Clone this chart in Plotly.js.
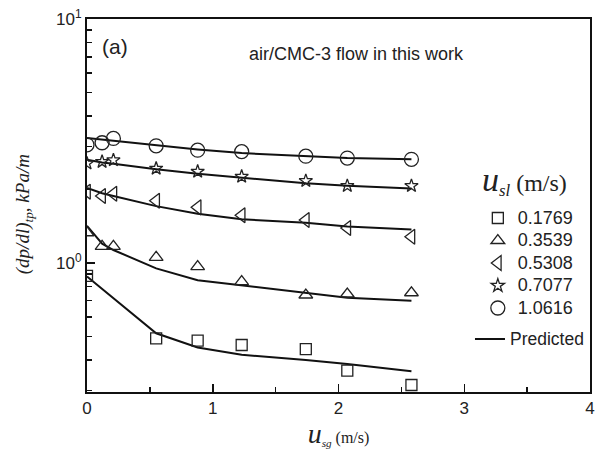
<!DOCTYPE html>
<html>
<head>
<meta charset="utf-8">
<script src="https://cdn.plot.ly/plotly-3.0.1.min.js"></script>
<style>html,body{margin:0;padding:0;background:#fff;}#chart{width:600px;height:453px;}</style>
</head>
<body>
<div id="chart"></div>
<script>
// Superficial gas velocity (m/s)
var usg = [0, 0.12, 0.21, 0.55, 0.88, 1.23, 1.74, 2.07, 2.58];
var usgSq = [0, 0.55, 0.88, 1.23, 1.74, 2.07, 2.58];
// Measured (dp/dl)tp, kPa/m
var exp01769 = [0.885, 0.491, 0.48, 0.461, 0.443, 0.362, 0.316];
var exp03539 = [1.33, 1.17, 1.17, 1.055, 0.966, 0.838, 0.739, 0.746, 0.755];
var exp05308 = [1.96, 1.88, 1.92, 1.80, 1.69, 1.57, 1.50, 1.39, 1.28];
var exp07077 = [2.56, 2.60, 2.64, 2.44, 2.37, 2.26, 2.17, 2.07, 2.07];
var exp10616 = [3.05, 3.11, 3.24, 3.02, 2.90, 2.86, 2.74, 2.69, 2.66];
// Predicted
var pre01769 = [0.88, 0.515, 0.45, 0.42, 0.40, 0.385, 0.36];
var pre03539 = [1.42, 1.20, 1.13, 0.95, 0.85, 0.81, 0.75, 0.72, 0.70];
var pre05308 = [2.03, 1.93, 1.88, 1.71, 1.59, 1.51, 1.46, 1.41, 1.37];
var pre07077 = [2.65, 2.58, 2.55, 2.42, 2.32, 2.23, 2.12, 2.07, 2.02];
var pre10616 = [3.25, 3.20, 3.17, 3.04, 2.92, 2.82, 2.73, 2.69, 2.66];
var seriesNames = ['0.1769', '0.3539', '0.5308', '0.7077', '1.0616'];
var yTickVals = [1, 10];
var yTickText = ['10<sup>0</sup>', '10<sup>1</sup>'];
var yMinor = [0.3, 0.4, 0.5, 0.6, 0.7, 0.8, 0.9, 2, 3, 4, 5, 6, 7, 8, 9];
var xTickVals = [0, 1, 2, 3, 4];
var xMinor = [0.5, 1.5, 2.5, 3.5];

var symbols = ['square-open', 'triangle-up-open', 'triangle-left-open', 'star-open', 'circle-open'];
var sizes = [11, 12, 13, 10, 14];
var expX = [usgSq, usg, usg, usg, usg];
var expY = [exp01769, exp03539, exp05308, exp07077, exp10616];
var preY = [pre01769, pre03539, pre05308, pre07077, pre10616];

function big(t, s) { return '<span style="font-size:' + s + 'px">' + t + '</span>'; }

var traces = [];
for (var i = 0; i < 5; i++) {
  traces.push({
    x: expX[i], y: preY[i], type: 'scatter', mode: 'lines',
    line: {color: '#111', width: 2},
    name: big('Predicted', 17.5), showlegend: i === 0, legend: 'legend2'
  });
}
for (var j = 0; j < 5; j++) {
  traces.push({
    x: expX[j], y: expY[j], type: 'scatter', mode: 'markers',
    marker: {symbol: symbols[j], size: sizes[j], color: '#222', line: {width: 1.3, color: '#222'}},
    name: big(seriesNames[j], 18), legend: 'legend'
  });
}

var layout = {
  width: 600, height: 453,
  margin: {l: 87, r: 10, t: 19, b: 61, autoexpand: false},
  paper_bgcolor: '#fff', plot_bgcolor: '#fff',
  font: {family: 'Liberation Sans, Arial, sans-serif', size: 16, color: '#222'},
  showlegend: true,
  legend: {
    x: 0.777, y: 0.51, xanchor: 'left', yanchor: 'top',
    bgcolor: 'rgba(0,0,0,0)', borderwidth: 0, traceorder: 'normal',
    font: {family: 'Liberation Sans, Arial, sans-serif', size: 15, color: '#222'}
  },
  legend2: {
    x: 0.7614, y: 0.1855, xanchor: 'left', yanchor: 'top',
    bgcolor: 'rgba(0,0,0,0)', borderwidth: 0,
    font: {family: 'Liberation Sans, Arial, sans-serif', size: 15, color: '#222'}
  },
  xaxis: {
    range: [0, 4], tickmode: 'array', tickvals: xTickVals,
    ticks: 'inside', ticklen: 8, tickwidth: 1.5, tickcolor: '#111',
    showline: true, linewidth: 2, linecolor: '#111', mirror: true,
    showgrid: false, zeroline: false, automargin: false,
    minor: {tickmode: 'array', tickvals: xMinor, ticks: 'inside', ticklen: 5, tickwidth: 1.5, tickcolor: '#111'},
    tickfont: {size: 17},
    title: {text: '<span style="font-size:28px"><i>u</i></span><sub><i>sg</i></sub> (m/s)', font: {family: 'Liberation Serif, Times New Roman, serif', size: 16, color: '#222'}, standoff: 8}
  },
  yaxis: {
    type: 'log', range: [-0.529, 1], tickmode: 'array', tickvals: yTickVals, ticktext: yTickText,
    ticks: 'inside', ticklen: 8, tickwidth: 1.5, tickcolor: '#111',
    showline: true, linewidth: 2, linecolor: '#111', mirror: true,
    showgrid: false, zeroline: false, automargin: false,
    minor: {tickmode: 'array', tickvals: yMinor, ticks: 'inside', ticklen: 5, tickwidth: 1.5, tickcolor: '#111'},
    tickfont: {size: 17}
  },
  annotations: [
    {xref: 'paper', yref: 'paper', x: 0.025, y: 0.925, xanchor: 'left', yanchor: 'middle', showarrow: false,
     text: '(a)', font: {family: 'Liberation Sans, Arial, sans-serif', size: 21, color: '#222'}},
    {xref: 'paper', yref: 'paper', x: 0.318, y: 0.905, xanchor: 'left', yanchor: 'middle', showarrow: false,
     text: 'air/CMC-3 flow in this work', font: {family: 'Liberation Sans, Arial, sans-serif', size: 18, color: '#222'}},
    {xref: 'paper', yref: 'paper', x: 0.782, y: 0.568, xanchor: 'left', yanchor: 'middle', showarrow: false,
     text: '<span style="font-size:34px"><i>u</i></span><sub><i>sl</i></sub> (m/s)', font: {family: 'Liberation Serif, Times New Roman, serif', size: 24, color: '#222'}},
    {xref: 'paper', yref: 'paper', x: -0.125, y: 0.477, xanchor: 'center', yanchor: 'middle', showarrow: false, textangle: -90,
     text: '<i>(dp/dl)<sub>tp</sub>, kPa/m</i>', font: {family: 'Liberation Serif, Times New Roman, serif', size: 19, color: '#222'}}
  ]
};

Plotly.newPlot('chart', traces, layout, {displayModeBar: false, staticPlot: true});
</script>
</body>
</html>
